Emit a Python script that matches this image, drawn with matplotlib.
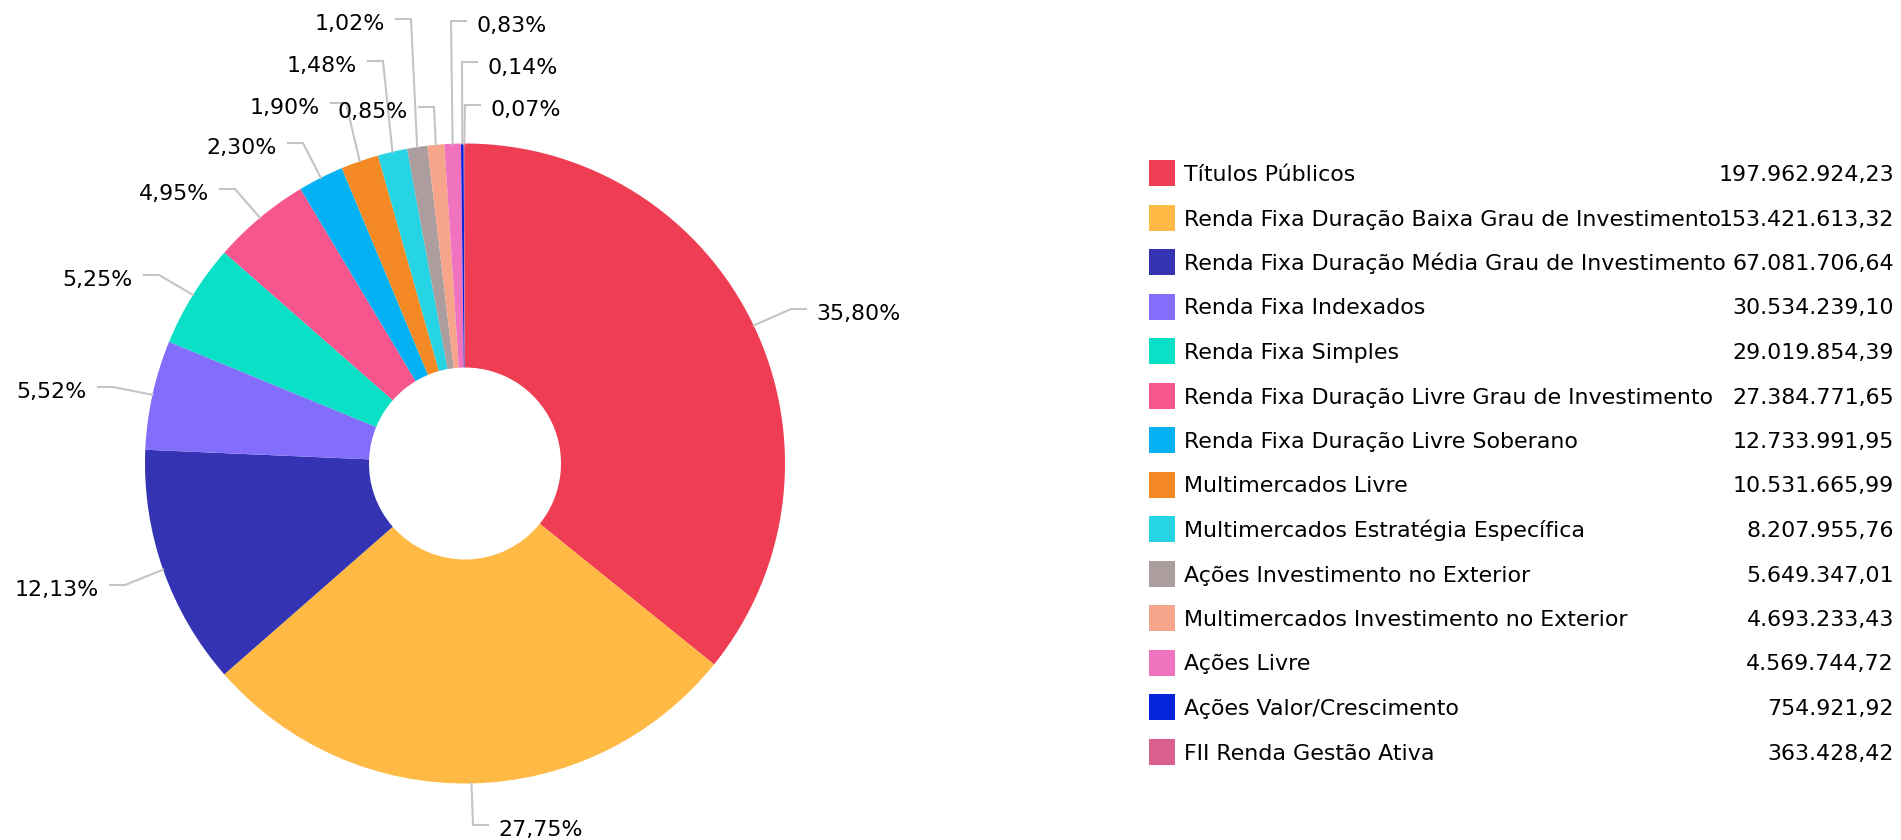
import numpy as np
import matplotlib
matplotlib.use("Agg")
import matplotlib.pyplot as plt
from matplotlib.patches import Rectangle

# ---------------- data ----------------
categories = [
    "Títulos Públicos",
    "Renda Fixa Duração Baixa Grau de Investimento",
    "Renda Fixa Duração Média Grau de Investimento",
    "Renda Fixa Indexados",
    "Renda Fixa Simples",
    "Renda Fixa Duração Livre Grau de Investimento",
    "Renda Fixa Duração Livre Soberano",
    "Multimercados Livre",
    "Multimercados Estratégia Específica",
    "Ações Investimento no Exterior",
    "Multimercados Investimento no Exterior",
    "Ações Livre",
    "Ações Valor/Crescimento",
    "FII Renda Gestão Ativa",
]
values = [
    197962924.23, 153421613.32, 67081706.64, 30534239.10, 29019854.39,
    27384771.65, 12733991.95, 10531665.99, 8207955.76, 5649347.01,
    4693233.43, 4569744.72, 754921.92, 363428.42,
]
colors = [
    "#EF3E53", "#FFBA45", "#3333B3", "#836DFB", "#09E0C5", "#F7558E",
    "#04B2F3", "#F58A25", "#27D4E3", "#AC9D9E", "#F6A48A", "#F073C0",
    "#0425DB", "#DA5F8F",
]

# label layout (pixel positions of text edge, leader line y, side)
label_layout = [
    (816, 309, "R"), (498, 825, "R"), (99, 585, "L"), (87, 387, "L"),
    (133, 275, "L"), (209, 189, "L"), (277, 143, "L"), (320, 103, "L"),
    (357, 61, "L"), (385, 19, "L"), (408, 107, "L"), (476, 21, "R"),
    (487, 62, "R"), (490, 105, "R"),
]

W, H = 1901, 840
CX, CY = 465, 463.5
R_OUT, R_IN = 320, 96
FS = 15.9
TXT = "#000000"
LINE = "#c4c4c4"


def Y(y):
    return H - y


def br(v):
    s = f"{v:,.2f}"
    return s.replace(",", "X").replace(".", ",").replace("X", ".")


fig = plt.figure(figsize=(W / 100, H / 100), dpi=100)
ax = fig.add_axes([0, 0, 1, 1])

wedges, _ = ax.pie(
    values, colors=colors, startangle=90, counterclock=False,
    radius=R_OUT, center=(CX, Y(CY)),
    wedgeprops=dict(width=R_OUT - R_IN, linewidth=0, antialiased=True),
)

ax.set_xlim(0, W)
ax.set_ylim(0, H)
ax.set_aspect("equal")
ax.axis("off")

total = sum(values)
for w, v, (tx, ly, side) in zip(wedges, values, label_layout):
    mid = np.deg2rad((w.theta1 + w.theta2) / 2)
    ax_x = CX + R_OUT * np.cos(mid)
    ax_y = Y(CY) + R_OUT * np.sin(mid)
    if side == "R":
        cxp = tx - 10
        bxp = cxp - 15
        ha = "left"
    else:
        cxp = tx + 11
        bxp = cxp + 15
        ha = "right"
    ax.plot([ax_x, bxp, cxp], [ax_y, Y(ly), Y(ly)], color=LINE, lw=1.5,
            solid_joinstyle="miter", zorder=1)
    pct = f"{v / total * 100:.2f}".replace(".", ",") + "%"
    ax.text(tx, Y(ly + 11.5), pct, ha=ha, va="baseline", fontsize=FS,
            color=TXT, family="DejaVu Sans")

# legend
row0, step = 173, 44.5
for i, (c, v, col) in enumerate(zip(categories, values, colors)):
    yc = row0 + step * i
    ax.add_patch(Rectangle((1149, Y(yc + 13)), 26, 26, facecolor=col,
                           edgecolor="none"))
    ax.text(1184, Y(yc + 8), c, ha="left", va="baseline", fontsize=FS,
            color=TXT, family="DejaVu Sans")
    ax.text(1894, Y(yc + 8), br(v), ha="right", va="baseline", fontsize=FS,
            color=TXT, family="DejaVu Sans")

fig.savefig("out.png", dpi=100, facecolor="white")
